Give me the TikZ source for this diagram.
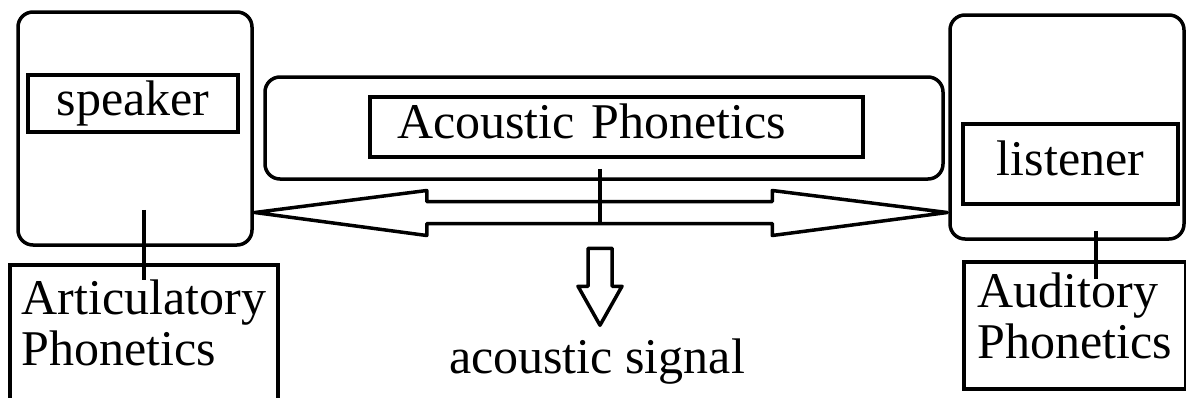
\documentclass[tikz,border=0pt]{standalone}
\usepackage{fontspec}
\setmainfont{Liberation Serif}
\usetikzlibrary{positioning,calc}

\begin{document}
\begin{tikzpicture}[
    x=1pt, y=-1pt,
    line width=3.5pt,
    font=\fontsize{50}{51.5}\selectfont,
    frame/.style={draw, rounded corners=15pt, inner sep=0pt},
    tag/.style={draw, inner sep=0pt, text height=34pt, text depth=11pt},
    field/.style={draw, align=left, inner xsep=12pt, anchor=north west},
    hollow/.style={draw, line join=round}
]
\useasboundingbox (0,0) rectangle (1186,397);

% rounded frames
\node[frame, minimum width=234pt, minimum height=233pt] (spkframe) at (135,128.5) {};
\node[frame, minimum width=678pt, minimum height=102pt] (acframe) at (604,128) {};
\node[frame, minimum width=234pt, minimum height=224pt] (lisframe) at (1067,127) {};

% labels inside the frames
\node[tag, minimum width=210pt, minimum height=57pt] (speaker) at (133,103.5) {speaker};
\node[tag, minimum width=493pt, minimum height=60pt, text width=439pt, align=left] (acoustic) at (616.5,127) {Acoustic Phonetics};
\node[tag, minimum width=215pt, minimum height=80pt] (listener) at (1070.5,164) {listener};

% branches underneath
\node[field, inner ysep=15pt, text depth=40pt] (artic) at (8,263) {Articulatory\\Phonetics};
\node[field, inner xsep=14pt, inner ysep=11pt, text depth=19pt] (audit) at (962,260) {Auditory\\Phonetics};
\node[inner sep=0pt, text height=34pt, text depth=11pt] (signal) at (597,361.5) {acoustic signal};

% wide double arrow between speaker and listener
\coordinate (ltip) at ($(spkframe.east)+(1,84)$);
\coordinate (rtip) at ($(lisframe.west)+(-1,85.5)$);
\draw[hollow] (ltip) -- ($(ltip)+(172,-22)$) -- ($(ltip)+(172,-11)$)
    -- ($(rtip)+(-175,-11)$) -- ($(rtip)+(-175,-22)$) -- (rtip)
    -- ($(rtip)+(-175,23)$) -- ($(rtip)+(-175,11)$)
    -- ($(ltip)+(172,11)$) -- ($(ltip)+(172,23)$) -- cycle;

% small arrow down to the signal
\path (signal.north) ++(3,-89) coordinate (sigtop);
\draw[hollow] ($(sigtop)+(-12,0)$) -- ++(0,38) -- ++(-10,0)
    -- ($(sigtop)+(0,77)$) -- ++(22,-39) -- ++(-10,0) -- ++(0,-38) -- cycle;

% ticks
\draw ($(spkframe.south -| artic.north)+(0,-37)$) -- ($(artic.north)+(0,17)$);
\draw ($(acframe.south)+(-4,-12)$) -- ($(acframe.south)+(-4,43)$);
\draw ($(lisframe.south)+(29,-10)$) -- ($(lisframe.south)+(29,38)$);

\end{tikzpicture}
\end{document}
